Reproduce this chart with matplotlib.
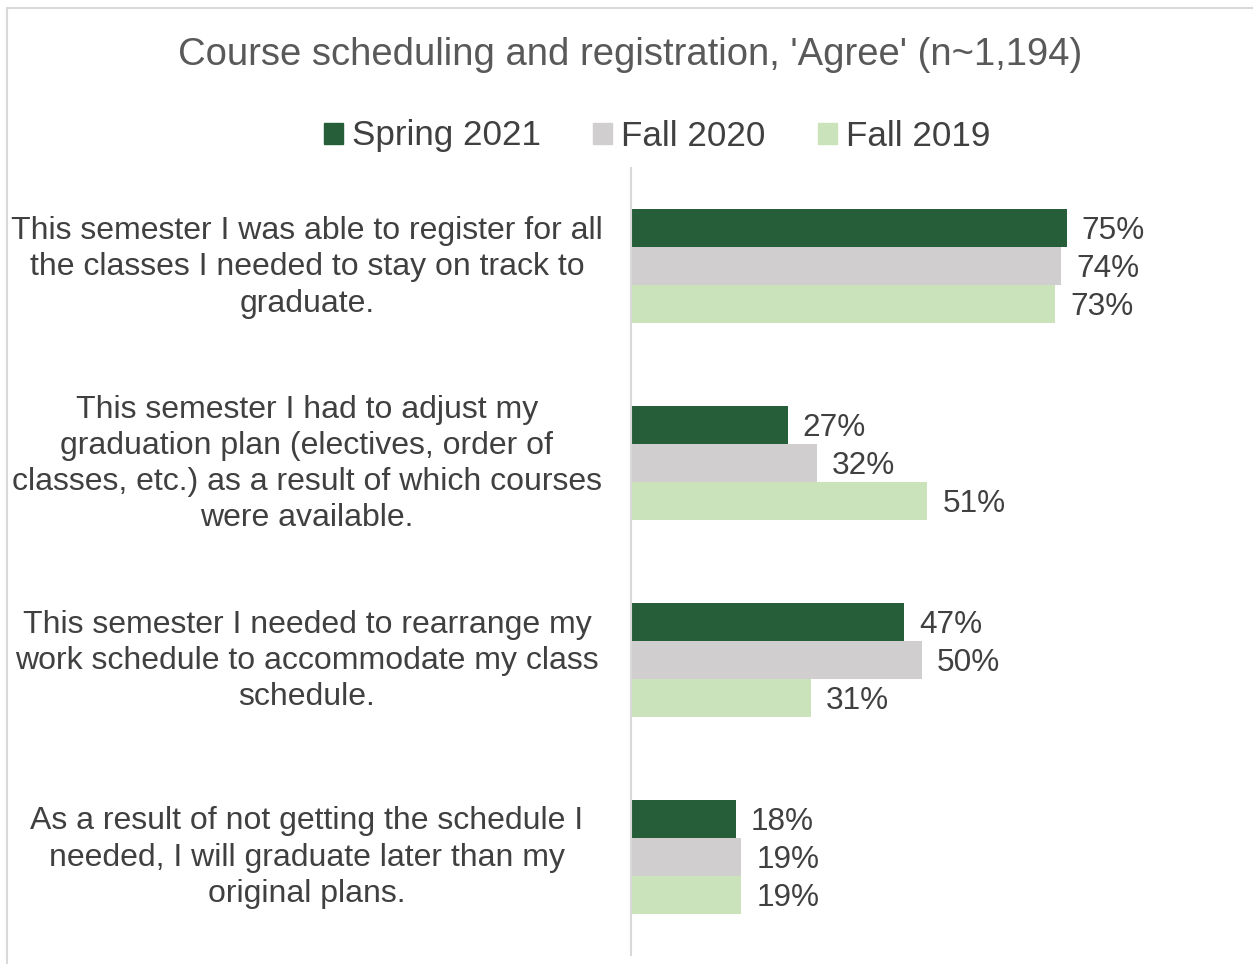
import matplotlib
matplotlib.use("Agg")
import matplotlib.pyplot as plt
from matplotlib.patches import Patch, Rectangle

plt.rcParams['font.family'] = ['Liberation Sans', 'DejaVu Sans']

categories = [
    "This semester I was able to register for all\nthe classes I needed to stay on track to\ngraduate.",
    "This semester I had to adjust my\ngraduation plan (electives, order of\nclasses, etc.) as a result of which courses\nwere available.",
    "This semester I needed to rearrange my\nwork schedule to accommodate my class\nschedule.",
    "As a result of not getting the schedule I\nneeded, I will graduate later than my\noriginal plans.",
]
series_names = ["Spring 2021", "Fall 2020", "Fall 2019"]
spring_2021 = [75, 27, 47, 18]
fall_2020 = [74, 32, 50, 19]
fall_2019 = [73, 51, 31, 19]
colors = ["#255E38", "#D0CECE", "#CBE3BA"]
title = "Course scheduling and registration, 'Agree' (n~1,194)"

W, H = 1253, 964
fig = plt.figure(figsize=(W / 100, H / 100), dpi=100)

# chart border
fig.patches.append(Rectangle((7 / W, -0.01), 1.1, 1 - 8 / H + 0.01, transform=fig.transFigure,
                             fill=False, edgecolor="#D9D9D9", linewidth=1.5))

ax = fig.add_axes([631 / W, 1 - 955 / H, (1245 - 631) / W, (955 - 168) / H])
bh = 0.193
data = [spring_2021, fall_2020, fall_2019]
offsets = [-bh, 0, bh]
for vals, off, col, name in zip(data, offsets, colors, series_names):
    ys = [i + off for i in range(len(categories))]
    bars = ax.barh(ys, vals, height=bh, color=col, label=name)
    for b, v in zip(bars, vals):
        ax.annotate(f"{v}%", (b.get_width(), b.get_y() + b.get_height() / 2),
                    xytext=(15, -3), textcoords="offset pixels",
                    ha="left", va="center", fontsize=22.7, color="#404040")

ax.set_xlim(0, (1245 - 631) / 5.81)
ax.set_ylim(len(categories) - 0.5, -0.5)
ax.set_xticks([])
ax.set_yticks([])
for s in ["top", "right", "bottom"]:
    ax.spines[s].set_visible(False)
ax.spines["left"].set_color("#D9D9D9")
ax.spines["left"].set_linewidth(1.5)

for i, cat in enumerate(categories):
    y_px = 168 + (i + 0.5) * (955 - 168) / len(categories)
    fig.text(307 / W, 1 - (y_px + 1) / H, cat, ha="center", va="center", fontsize=23,
             color="#404040", linespacing=1.27, multialignment="center")

fig.text(630 / W, 1 - 55 / H, title, ha="center", va="center", fontsize=27.5, color="#595959")

handles = [Patch(facecolor=c, edgecolor=c) for c in colors]
fig.legend(handles, series_names, loc="center", bbox_to_anchor=(657 / W, 1 - 136 / H),
           ncol=3, frameon=False, fontsize=25.2, labelcolor="#404040",
           handlelength=0.55, handleheight=0.55, handletextpad=0.25, columnspacing=1.5)

fig.savefig("out.png", dpi=100, facecolor="white")
